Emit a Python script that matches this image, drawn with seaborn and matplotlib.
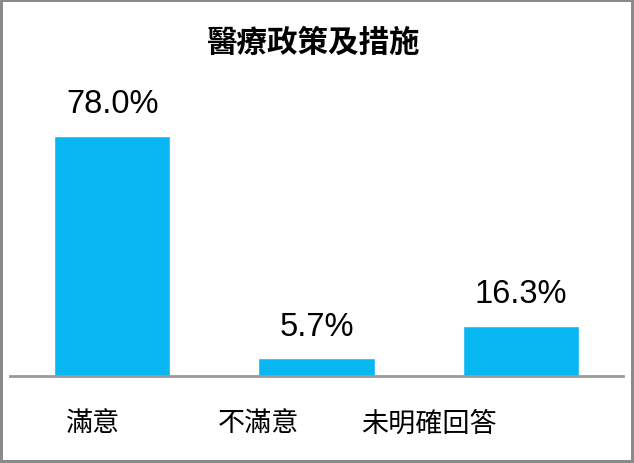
import matplotlib
matplotlib.use("Agg")
import matplotlib.pyplot as plt
import matplotlib.transforms as mtransforms
import seaborn as sns
import pandas as pd

title = "醫療政策及措施"
categories = ["滿意", "不滿意", "未明確回答"]
values = [78.0, 5.7, 16.3]

sns.set_theme(style="white")
plt.rcParams['font.family'] = ['Noto Sans CJK TC', 'DejaVu Sans']

W, H, DPI = 634, 464, 100
fig = plt.figure(figsize=(W / DPI, H / DPI), dpi=DPI,
                 linewidth=3, edgecolor='#8a8a8a', facecolor='white')

# axes geometry in pixels
ax_left, ax_right = 10, 623
ax_bottom_px, ax_top_px = 377, 80
ax = fig.add_axes([ax_left / W, (H - ax_bottom_px) / H,
                   (ax_right - ax_left) / W, (ax_bottom_px - ax_top_px) / H])

df = pd.DataFrame({"cat": categories, "val": values})
sns.barplot(data=df, x="cat", y="val", color="#08B6F2", saturation=1,
            width=0.57, ax=ax)

px_per_unit = 240 / 78.0
ax.set_ylim(0, (ax_bottom_px - ax_top_px) / px_per_unit)
ax.set_xlim(-0.5, 2.5)

for c in ax.containers:
    ax.bar_label(c, labels=[f"{v:.1f}%" for v in values], padding=12,
                 fontsize=23.5, family=['Liberation Sans', 'DejaVu Sans'],
                 color='#000000')

for s in ["left", "right", "top"]:
    ax.spines[s].set_visible(False)
ax.spines["bottom"].set_color('#999999')
ax.spines["bottom"].set_linewidth(2)
ax.set_yticks([])
ax.set_xlabel("")
ax.set_ylabel("")
ax.tick_params(axis='x', length=0, pad=24, labelsize=19.5, colors='#000000')

label_shift_px = [-20, -58, -92]
for lab, dx in zip(ax.get_xticklabels(), label_shift_px):
    lab.set_transform(lab.get_transform() +
                      mtransforms.ScaledTranslation(dx / DPI, 0, fig.dpi_scale_trans))

fig.text(313 / W, 1 - 43 / H, title, ha='center', va='center',
         fontsize=22, fontweight='bold', color='#000000')

fig.savefig("out.png", dpi=DPI, edgecolor=fig.get_edgecolor())
